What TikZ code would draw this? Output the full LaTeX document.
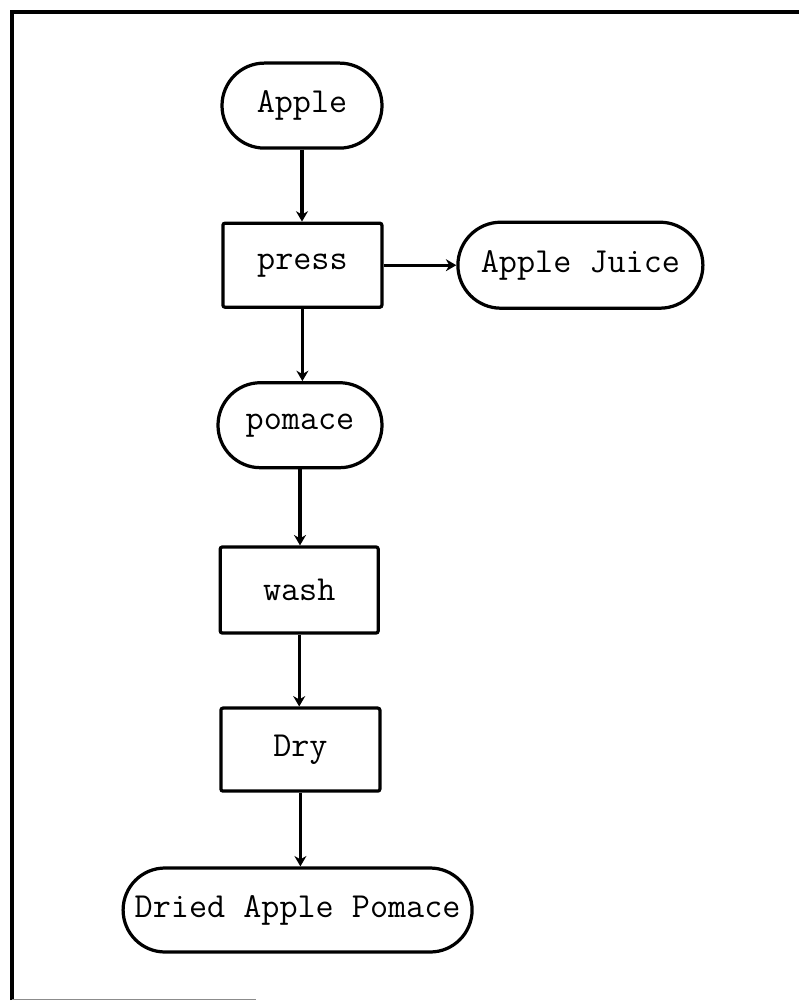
\documentclass[tikz,border=0pt]{standalone}
\usepackage{xcolor}
\usepackage{tikz}
\usetikzlibrary{arrows.meta,shapes.misc}

\begin{document}
\begin{tikzpicture}[
    terminal/.style={draw, line width=2.3pt, rounded rectangle, inner sep=0pt,
      font=\ttfamily\fontsize{25}{30}\selectfont},
    process/.style={draw, line width=2.3pt, rectangle, rounded corners=1.5pt, inner sep=0pt,
      font=\ttfamily\fontsize{25}{30}\selectfont},
    flow/.style={line width=2.2pt, -{Stealth[length=2.6mm, width=3mm]}}]
  \useasboundingbox (0,0) rectangle (19.975,-25.05);
  % frame
  \draw[line width=2.8pt] (0.3,-25.0) -- (0.3,-0.3) -- (19.975,-0.3);
  \draw[line width=0.8pt, black!45] (0.3,-24.98) -- (6.4,-24.98);
  % nodes
  \node[terminal, minimum width=4cm, minimum height=2.125cm]     (apple)  at (7.55,-2.64)  {Apple};
  \node[process,  minimum width=3.975cm, minimum height=2.1cm]   (press)  at (7.56,-6.63)  {press};
  \node[terminal, minimum width=6.125cm, minimum height=2.15cm]  (juice)  at (14.51,-6.63) {Apple Juice};
  \node[terminal, minimum width=4.1cm, minimum height=2.125cm]   (pomace) at (7.5,-10.63)  {pomace};
  \node[process,  minimum width=3.95cm, minimum height=2.15cm]   (wash)   at (7.48,-14.75) {wash};
  \node[process,  minimum width=3.975cm, minimum height=2.075cm] (dry)    at (7.51,-18.74) {Dry};
  \node[terminal, minimum width=8.725cm, minimum height=2.1cm]   (dried)  at (7.44,-22.75) {Dried Apple~Pomace};
  % connectors
  \draw[flow] (apple.south) -- (apple.south |- press.north);
  \draw[flow] (press.east) -- (juice.west);
  \draw[flow] (press.south) -- (press.south |- pomace.north);
  \draw[flow] (pomace.south) -- (pomace.south |- wash.north);
  \draw[flow] (wash.south) -- (wash.south |- dry.north);
  \draw[flow] (dry.south) -- (dry.south |- dried.north);
\end{tikzpicture}
\end{document}
